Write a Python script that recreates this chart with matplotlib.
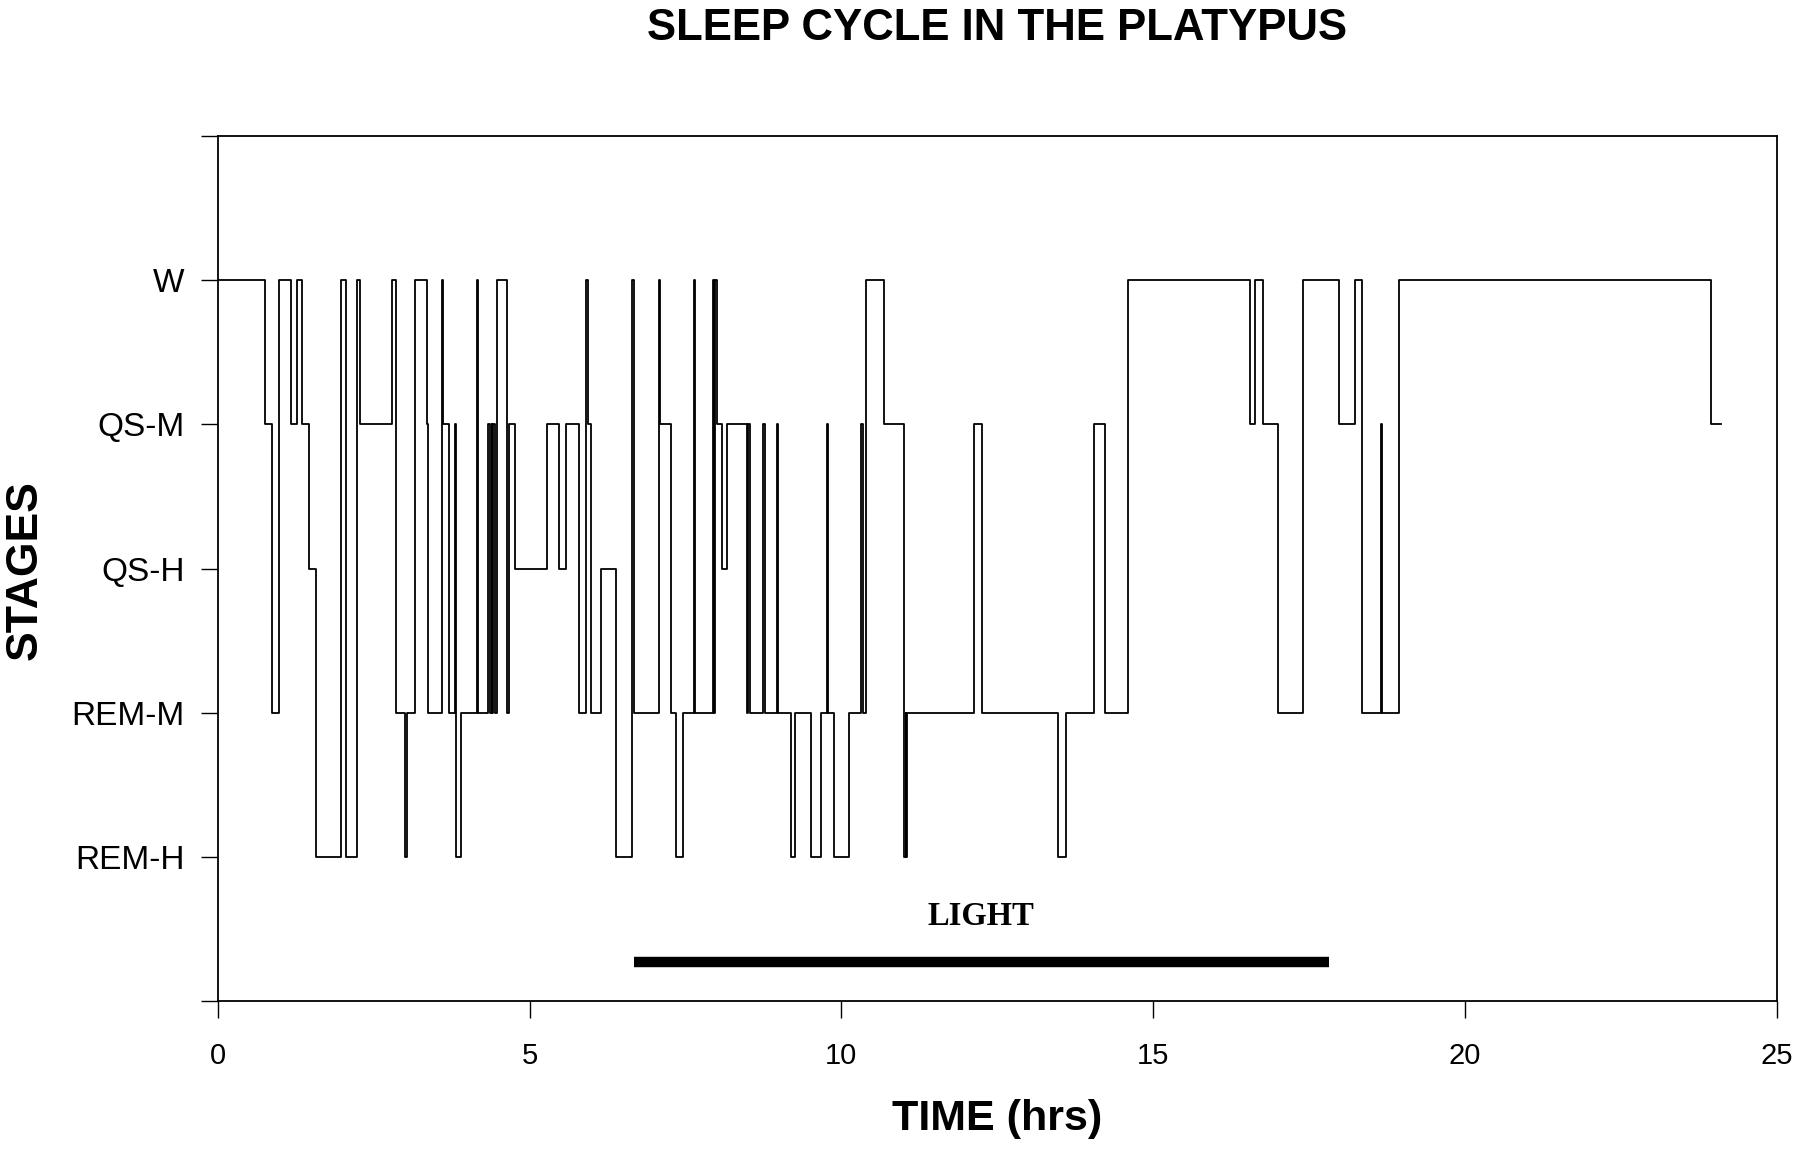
import matplotlib
matplotlib.use("Agg")
import matplotlib.pyplot as plt

# stage codes: 4=W, 3=QS-M, 2=QS-H, 1=REM-M, 0=REM-H
stage_names = ["REM-H", "REM-M", "QS-H", "QS-M", "W"]

# time (hrs) at which each stage starts, and the stage held from then on
hours = [0.0, 0.75, 0.87, 0.98, 1.18, 1.27, 1.35, 1.47, 1.58, 1.98,
         2.06, 2.24, 2.28, 2.79, 2.86, 3.01, 3.03, 3.16, 3.35, 3.37,
         3.59, 3.61, 3.70, 3.80, 3.815, 3.90, 4.15, 4.17, 4.34, 4.36,
         4.39, 4.40, 4.42, 4.44, 4.47, 4.64, 4.67, 4.76, 5.28, 5.47,
         5.59, 5.79, 5.90, 5.93, 5.99, 6.14, 6.38, 6.65, 6.67, 7.08,
         7.10, 7.27, 7.35, 7.46, 7.64, 7.66, 7.94, 7.96, 7.98, 8.01,
         8.08, 8.16, 8.49, 8.51, 8.53, 8.75, 8.77, 8.97, 8.99, 9.20,
         9.25, 9.52, 9.68, 9.77, 9.79, 9.89, 10.12, 10.32, 10.34, 10.40,
         10.68, 11.00, 11.01, 11.03, 11.045, 11.06, 12.13, 12.25, 13.48, 13.61,
         14.05, 14.23, 14.59, 16.55, 16.63, 16.76, 17.01, 17.41, 17.98, 18.24,
         18.35, 18.65, 18.67, 18.94, 23.94, 24.11]
stage = [4, 3, 1, 4, 3, 4, 3, 2, 0, 4,
         0, 4, 3, 4, 1, 0, 1, 4, 3, 1,
         4, 3, 1, 3, 0, 1, 4, 1, 3, 1,
         3, 1, 3, 1, 4, 1, 3, 2, 3, 2,
         3, 1, 4, 3, 1, 2, 0, 4, 1, 4,
         3, 1, 0, 1, 4, 1, 4, 1, 4, 3,
         2, 3, 1, 3, 1, 3, 1, 3, 1, 0,
         1, 0, 1, 3, 1, 0, 1, 3, 1, 4,
         3, 2, 0, 1, 0, 1, 3, 1, 0, 1,
         3, 1, 4, 3, 4, 3, 1, 4, 3, 4,
         1, 3, 1, 4, 3, 3]

light_start = 6.67
light_end = 17.82

plt.rcParams['font.family'] = ['Liberation Sans', 'DejaVu Sans']

fig = plt.figure(figsize=(18, 11.51), dpi=100)
ax = fig.add_axes([0.121, 0.130, 0.866, 0.752])

ax.step(hours, stage, where='post', color='black', linewidth=1.3)

# light period bar
ax.plot([light_start, light_end], [-0.73, -0.73], color='black', linewidth=7.5,
        solid_capstyle='butt')
ax.text((light_start + light_end) / 2, -0.41, "LIGHT", ha='center', va='center',
        fontsize=23.5, fontweight='bold', family=['Liberation Serif', 'DejaVu Serif'])

ax.set_xlim(0, 25)
ax.set_ylim(-1, 5)
ax.set_xticks([0, 5, 10, 15, 20, 25])
ax.set_yticks([-1, 0, 1, 2, 3, 4, 5])
ax.set_yticklabels([""] + stage_names + [""])

ax.tick_params(axis='y', direction='out', length=12, width=1, pad=12, labelsize=24)
ax.tick_params(axis='x', direction='out', length=12, width=1, pad=17, labelsize=21)
ax.tick_params(top=False, right=False)
for s in ax.spines.values():
    s.set_linewidth(1.3)

fig.text(0.554, 0.975, "SLEEP CYCLE IN THE PLATYPUS", ha='center', va='center',
         fontsize=31.5, fontweight='bold')
fig.text(0.554, 0.028, "TIME (hrs)", ha='center', va='center',
         fontsize=31, fontweight='bold')
fig.text(0.014, 0.505, "STAGES", ha='center', va='center', rotation=90,
         fontsize=32, fontweight='bold')

fig.savefig("out.png", dpi=100)
